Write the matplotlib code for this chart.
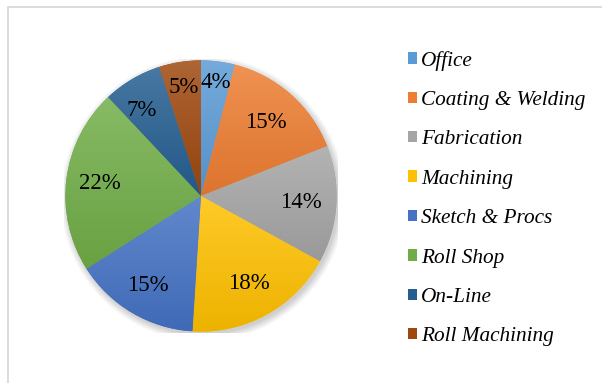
import numpy as np
import matplotlib.pyplot as plt
from matplotlib.colors import to_rgb, LinearSegmentedColormap
from matplotlib.patches import Rectangle, Circle

departments = ['Office', 'Coating & Welding', 'Fabrication', 'Machining',
               'Sketch & Procs', 'Roll Shop', 'On-Line', 'Roll Machining']
shares = [4, 15, 14, 18, 15, 22, 7, 5]
colors = ['#5B9BD5', '#ED7D31', '#A5A5A5', '#FFC000',
          '#4472C4', '#70AD47', '#255E91', '#9E480E']

# label distance from centre for each slice (small ones sit further out)
label_r = [0.84, 0.72, 0.74, 0.74, 0.77, 0.75, 0.77, 0.81]
# small angular nudge (degrees) for a couple of labels
label_dang = [0, 0, 0, 0, 0, 0, 4, 0]


def mix(c, other, t):
    c = np.array(to_rgb(c))
    return tuple(c * (1 - t) + np.array(other) * t)


fig = plt.figure(figsize=(6.02, 3.83), dpi=100)
fig.patches.append(Rectangle((8 / 602, -0.05), 1.1, 1 - 7 / 383 + 0.05,
                             transform=fig.transFigure, fill=False,
                             edgecolor='#D9D9D9', linewidth=1.3))

cx, cy, R = 201, 196, 137
ax = fig.add_axes([(cx - R) / 602, (383 - cy - R) / 383, 2 * R / 602, 2 * R / 383])

# soft shadow behind the pie
for i in range(8):
    ax.add_patch(Circle((0.015, -0.02), 1 + 0.007 * i, color='black',
                        alpha=0.025, lw=0, zorder=0))

wedges, _ = ax.pie(shares, colors=colors, startangle=90, counterclock=False,
                   radius=1, wedgeprops=dict(linewidth=0))

for w, c in zip(wedges, colors):
    w.set_zorder(1)
    x0, y0, x1, y1 = w.get_path().get_extents().extents
    cmap = LinearSegmentedColormap.from_list('g', [mix(c, (0, 0, 0), 0.07),
                                                   mix(c, (1, 1, 1), 0.16)])
    grad = np.linspace(0, 1, 128).reshape(-1, 1)
    im = ax.imshow(grad, cmap=cmap, origin='lower', aspect='auto',
                   extent=[x0, x1, y0, y1], zorder=2)
    im.set_clip_path(w)

for w, s, r, da in zip(wedges, shares, label_r, label_dang):
    ang = np.deg2rad((w.theta1 + w.theta2) / 2 + da)
    ax.text(r * np.cos(ang), r * np.sin(ang), f'{s}%', ha='center', va='center',
            fontsize=16.5, family='Liberation Serif', color='black', zorder=3)

ax.set_xlim(-1.01, 1.01)
ax.set_ylim(-1.01, 1.01)
ax.set_aspect('auto')
ax.axis('off')

leg = fig.legend(wedges, departments, loc='upper left',
                 bbox_to_anchor=(397 / 602, 1 - 40 / 383), frameon=False,
                 prop=dict(family='Liberation Serif', style='italic', size=15.3),
                 handlelength=0.45, handleheight=0.45, handletextpad=0.18,
                 labelspacing=0.96, borderpad=0)

fig.savefig('out.png', dpi=100)
